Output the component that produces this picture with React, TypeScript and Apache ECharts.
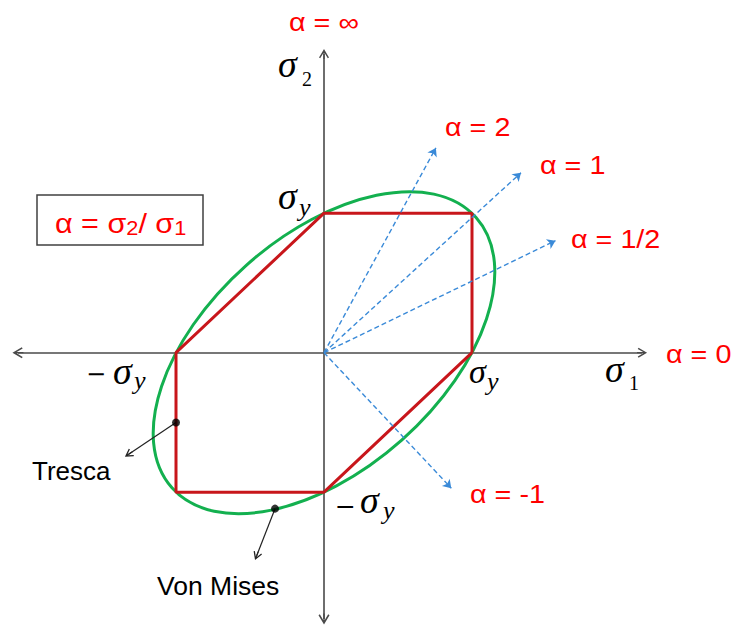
import React, { useEffect, useRef } from "react";
import * as echarts from "echarts";

// ---- data (in units of the yield stress σy) ----
const axisH = [[-2.068, 0], [2.149, 0]];
const axisV = [[0, -1.909], [0, 2.141]];
const trescaHexagon = [[1, 0], [1, 1], [0, 1], [-1, 0], [-1, -1], [0, -1], [1, 0]];
const vonMisesCenter = [0, 0];
const vonMisesMajorVertex = [1, 1];
const vonMisesMinorVertex = [-0.577, 0.577];
const loadPathNames = ["α = 2", "α = 1", "α = 1/2", "α = -1"];
const loadPathEnds = [[0.756, 1.468], [1.331, 1.29], [1.564, 0.803], [0.86, -0.971]];
const markerNames = ["Tresca", "Von Mises"];
const markerPoints = [[-1, -0.5], [-0.331, -1.118]];
const markerArrowEnds = [[-1.32, -0.728], [-0.455, -1.456]];

const CHEVRON = "path://M5,0 L10,8.5 L8.8,9.3 L5.6,3.9 L5.6,10 L4.4,10 L4.4,3.9 L1.2,9.3 L0,8.5 Z";
const RED_TEXT = "#ff0000";
const SANS = '"Liberation Sans", Arial, sans-serif';
const SERIF = '"Liberation Serif", "Times New Roman", serif';
const MINUS_FONT = '"DejaVu Serif", serif';

function txt(text: string, x: number, y: number, size: number, fill: string, family: string, italic = false, scaleX = 1) {
  return {
    type: "text",
    x,
    y,
    scaleX,
    silent: true,
    style: {
      text,
      fill,
      fontSize: size,
      fontFamily: family,
      fontStyle: italic ? "italic" : "normal",
      align: "left",
      verticalAlign: "middle",
    },
  };
}

export default function App() {
  const ref = useRef<HTMLDivElement>(null);
  useEffect(() => {
    if (!ref.current) return;
    const chart = echarts.init(ref.current, null, { renderer: "svg" });
    const option: any = {
      animation: false,
      backgroundColor: "#ffffff",
      grid: { left: 13.2, right: 8.4, top: 31.85, bottom: 0.275, containLabel: false },
      xAxis: {
        type: "value", min: -2.1, max: 2.7,
        axisLine: { show: false }, axisTick: { show: false }, axisLabel: { show: false }, splitLine: { show: false },
      },
      yAxis: {
        type: "value", min: -1.95, max: 2.3,
        axisLine: { show: false }, axisTick: { show: false }, axisLabel: { show: false }, splitLine: { show: false },
      },
      series: [
        {
          type: "lines",
          coordinateSystem: "cartesian2d",
          silent: true,
          symbol: [CHEVRON, CHEVRON],
          symbolSize: [11, 10],
          lineStyle: { color: "#4a4a4a", width: 1.6, opacity: 1 },
          data: [{ coords: axisH }, { coords: axisV }],
          z: 1,
        },
        {
          type: "custom",
          coordinateSystem: "cartesian2d",
          silent: true,
          data: [vonMisesCenter],
          encode: { x: 0, y: 1 },
          z: 2,
          renderItem: (_p: any, api: any) => {
            const c = api.coord(vonMisesCenter);
            const p = api.coord(vonMisesMajorVertex);
            const q = api.coord(vonMisesMinorVertex);
            const a = p[0] - c[0], cc = p[1] - c[1], b = q[0] - c[0], d = q[1] - c[1];
            const E = (a + d) / 2, F = (a - d) / 2, G = (cc + b) / 2, H = (cc - b) / 2;
            const Q = Math.hypot(E, H), R = Math.hypot(F, G);
            const a1 = Math.atan2(G, F), a2 = Math.atan2(H, E);
            const phi = (a2 + a1) / 2;
            return {
              type: "ellipse",
              x: c[0],
              y: c[1],
              rotation: -phi,
              shape: { cx: 0, cy: 0, rx: Q + R, ry: Math.abs(Q - R) },
              style: { fill: "none", stroke: "#13b04f", lineWidth: 3 },
            };
          },
        },
        {
          type: "line",
          name: "Tresca",
          silent: true,
          data: trescaHexagon,
          showSymbol: false,
          symbol: "none",
          lineStyle: { color: "#c8161b", width: 3 },
          z: 3,
        },
        {
          type: "lines",
          coordinateSystem: "cartesian2d",
          silent: true,
          symbol: ["none", "arrow"],
          symbolSize: [6, 8],
          lineStyle: { color: "#3a8ad8", width: 1.4, type: [5, 3], opacity: 1 },
          data: loadPathNames.map((name, i) => ({ name, coords: [vonMisesCenter, loadPathEnds[i]] })),
          z: 4,
        },
        {
          type: "lines",
          coordinateSystem: "cartesian2d",
          silent: true,
          symbol: ["none", CHEVRON],
          symbolSize: [10, 9],
          lineStyle: { color: "#222222", width: 1.2, opacity: 1 },
          data: markerNames.map((name, i) => ({ name, coords: [markerPoints[i], markerArrowEnds[i]] })),
          z: 5,
        },
        {
          type: "scatter",
          silent: true,
          symbolSize: 8,
          itemStyle: { color: "#000000" },
          data: markerPoints,
          z: 6,
        },
      ],
      graphic: [
        {
          type: "rect",
          shape: { x: 37, y: 195, width: 166, height: 50 },
          style: { fill: "none", stroke: "#404040", lineWidth: 1.5 },
          silent: true,
        },
        {
          type: "text",
          x: 55,
          y: 223,
          scaleX: 1.09,
          silent: true,
          style: {
            text: "{m|α = σ}{s|2}{m|/ σ}{s|1}",
            align: "left",
            verticalAlign: "middle",
            rich: {
              m: { fontSize: 28, fontFamily: SANS, fill: RED_TEXT, lineHeight: 30 },
              s: { fontSize: 20, fontFamily: SANS, fill: RED_TEXT, lineHeight: 22, verticalAlign: "bottom" },
            },
          },
        },
        txt("α = ∞", 289, 23, 25, RED_TEXT, SANS, false, 1.15),
        txt("α = 2", 445, 128, 25, RED_TEXT, SANS, false, 1.15),
        txt("α = 1", 540, 166, 25, RED_TEXT, SANS, false, 1.15),
        txt("α = 1/2", 571, 240, 25, RED_TEXT, SANS, false, 1.15),
        txt("α = 0", 666, 355, 25, RED_TEXT, SANS, false, 1.15),
        txt("α = -1", 470, 495, 25, RED_TEXT, SANS, false, 1.15),
        // σ2 axis label
        txt("σ", 278, 64, 38, "#000000", SERIF, true),
        txt("2", 302, 78.5, 20, "#000000", SERIF),
        // σ1 axis label
        txt("σ", 605, 368.5, 38, "#000000", SERIF, true),
        txt("1", 629, 383, 20, "#000000", SERIF),
        // σy top
        txt("σ", 278, 196, 38, "#000000", SERIF, true),
        txt("y", 299, 207.5, 26, "#000000", SERIF, true),
        // σy right
        txt("σ", 469, 371, 34, "#000000", SERIF, true),
        txt("y", 487, 381, 26, "#000000", SERIF, true),
        // −σy left
        txt("−", 86, 374, 24, "#000000", MINUS_FONT),
        txt("σ", 113, 371, 38, "#000000", SERIF, true),
        txt("y", 134, 380.5, 26, "#000000", SERIF, true),
        // −σy bottom
        txt("−", 335, 506, 25, "#000000", MINUS_FONT),
        txt("σ", 360, 500, 38, "#000000", SERIF, true),
        txt("y", 383, 510, 26, "#000000", SERIF, true),
        // marker labels
        txt("Tresca", 32, 471, 26, "#000000", SANS),
        txt("Von Mises", 157, 586, 26.5, "#000000", SANS),
      ],
    };
    chart.setOption(option);
    return () => chart.dispose();
  }, []);
  return (
    <div
      ref={ref}
      style={{ position: "absolute", left: 0, top: 0, width: 732, height: 625, background: "#fff" }}
    />
  );
}
